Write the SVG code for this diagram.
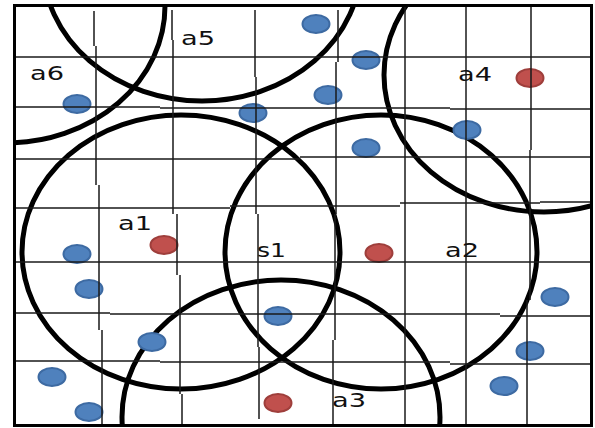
<svg xmlns="http://www.w3.org/2000/svg" width="595" height="428" viewBox="0 0 595 428">
<style>
.grid{fill:none;stroke:#1a1a1a;stroke-width:1.5}
.ring{fill:none;stroke:#000;stroke-width:5}
.blue{fill:#4f81bd;stroke:#3d6aa2;stroke-width:2}
.red{fill:#c0504d;stroke:#9e3e3b;stroke-width:2}
.lbl{font-family:"DejaVu Sans",Verdana,sans-serif;font-size:20px;fill:#111}
</style>
<defs>
<clipPath id="box"><rect x="14.5" y="5.5" width="577" height="420"/></clipPath>
</defs>
<rect x="0" y="0" width="595" height="428" fill="#fff"/>
<g id="coverage" clip-path="url(#box)">
<g id="a1"><ellipse class="ring" cx="181" cy="252" rx="159" ry="137"/></g>
<g id="a2"><ellipse class="ring" cx="381" cy="252" rx="156" ry="137"/></g>
<g id="a3"><ellipse class="ring" cx="281" cy="417" rx="159" ry="137"/></g>
<g id="a4"><ellipse class="ring" cx="544" cy="75" rx="160" ry="137"/></g>
<g id="a5"><ellipse class="ring" cx="202" cy="-36" rx="159" ry="137"/></g>
<g id="a6"><ellipse class="ring" cx="6" cy="6" rx="159" ry="137"/></g>
</g>
<g id="sensors">
<ellipse class="blue" cx="316" cy="24" rx="13.5" ry="9"/>
<ellipse class="blue" cx="366" cy="60" rx="13.5" ry="9"/>
<ellipse class="blue" cx="77" cy="104" rx="13.5" ry="9"/>
<ellipse class="blue" cx="328" cy="95" rx="13.5" ry="9"/>
<ellipse class="blue" cx="253" cy="113" rx="13.5" ry="9"/>
<ellipse class="blue" cx="467" cy="130" rx="13.5" ry="9"/>
<ellipse class="blue" cx="366" cy="148" rx="13.5" ry="9"/>
<ellipse class="blue" cx="77" cy="254" rx="13.5" ry="9"/>
<ellipse class="blue" cx="89" cy="289" rx="13.5" ry="9"/>
<ellipse class="blue" cx="278" cy="316" rx="13.5" ry="9"/>
<ellipse class="blue" cx="152" cy="342" rx="13.5" ry="9"/>
<ellipse class="blue" cx="52" cy="377" rx="13.5" ry="9"/>
<ellipse class="blue" cx="89" cy="412" rx="13.5" ry="9"/>
<ellipse class="blue" cx="555" cy="297" rx="13.5" ry="9"/>
<ellipse class="blue" cx="530" cy="351" rx="13.5" ry="9"/>
<ellipse class="blue" cx="504" cy="386" rx="13.5" ry="9"/>
<ellipse class="red" cx="530" cy="78" rx="13.5" ry="9"/>
<ellipse class="red" cx="164" cy="245" rx="13.5" ry="9"/>
<ellipse class="red" cx="379" cy="253" rx="13.5" ry="9"/>
<ellipse class="red" cx="278" cy="403" rx="13.5" ry="9"/>
</g>
<g id="grid" class="grid">
<path d="M94 11V46M96 46V185M99 185V330M102 330V426"/>
<path d="M172 10V40M173 40V214M177 214V275M180 275V394M182 394V426"/>
<path d="M255 10V77M256 77V214M258 214V347M259 347V419"/>
<path d="M338 10V62M336 62V214M335 214V340M333 340V426"/>
<path d="M405 6V426"/>
<path d="M466 6V426"/>
<path d="M531 6V150M530 150V300M527 300V426"/>
<path d="M14 57H591"/>
<path d="M14 107H160M160 108H450M450 109H591"/>
<path d="M14 159H300M300 157H591"/>
<path d="M14 208H230M230 206H400M400 203H540M540 202H591"/>
<path d="M14 262H591"/>
<path d="M14 313H110M110 314H500M500 316H591"/>
<path d="M14 361H160M160 362H450M450 364H591"/>
</g>
<rect x="14.5" y="5.5" width="577" height="420" fill="none" stroke="#000" stroke-width="3"/>
<g id="labels">
<text class="lbl" x="181" y="45" textLength="34" lengthAdjust="spacingAndGlyphs">a5</text>
<text class="lbl" x="30" y="80" textLength="34" lengthAdjust="spacingAndGlyphs">a6</text>
<text class="lbl" x="458" y="81" textLength="34" lengthAdjust="spacingAndGlyphs">a4</text>
<text class="lbl" x="118" y="230" textLength="34" lengthAdjust="spacingAndGlyphs">a1</text>
<text class="lbl" x="257" y="257" textLength="29" lengthAdjust="spacingAndGlyphs">s1</text>
<text class="lbl" x="445" y="257" textLength="34" lengthAdjust="spacingAndGlyphs">a2</text>
<text class="lbl" x="332" y="407" textLength="34" lengthAdjust="spacingAndGlyphs">a3</text>
</g>
</svg>
